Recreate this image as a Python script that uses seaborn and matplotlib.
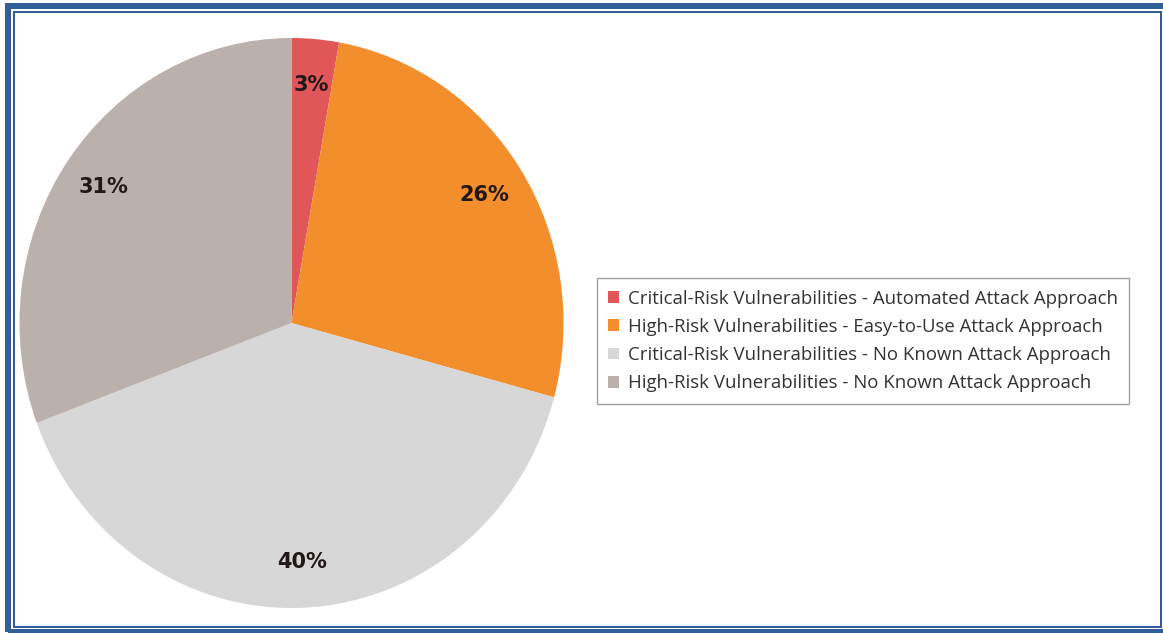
import matplotlib
matplotlib.use("Agg")
import matplotlib.pyplot as plt
from matplotlib.patches import Rectangle
import seaborn as sns

categories = [
    "Critical-Risk Vulnerabilities - Automated Attack Approach",
    "High-Risk Vulnerabilities - Easy-to-Use Attack Approach",
    "Critical-Risk Vulnerabilities - No Known Attack Approach",
    "High-Risk Vulnerabilities - No Known Attack Approach",
]
shares = [2.8, 26.4, 40.1, 30.7]
colors = ["#E15759", "#F28E2B", "#D7D7D7", "#BAB0AC"]

sns.set_theme(style="white")
plt.rcParams["font.family"] = ["Open Sans", "DejaVu Sans"]

W, H = 1163, 633
fig = plt.figure(figsize=(W / 100, H / 100), dpi=100)
fig.patch.set_facecolor("white")

# pie is slightly stretched vertically in the reference
cx, cy, RX, RY = 291.5, 323, 272, 285
ax = fig.add_axes([(cx - RX) / W, (H - cy - RY) / H, 2 * RX / W, 2 * RY / H])
wedges, texts, autotexts = ax.pie(
    shares,
    colors=colors,
    startangle=90,
    counterclock=False,
    radius=1,
    autopct="%.0f%%",
    pctdistance=0.84,
    wedgeprops=dict(linewidth=0),
    textprops=dict(fontsize=15, fontweight="bold", color="#221818", family=["DejaVu Sans"]),
)
ax.set_xlim(-1, 1)
ax.set_ylim(-1, 1)
ax.set_aspect("auto")
ax.axis("off")

leg = fig.legend(
    wedges,
    categories,
    loc="center left",
    bbox_to_anchor=(597 / W, (H - 341) / H),
    frameon=True,
    fancybox=False,
    fontsize=13.4,
    handlelength=0.6,
    handleheight=0.6,
    handletextpad=0.45,
    labelspacing=0.55,
    borderpad=0.6,
    borderaxespad=0,
    labelcolor="#333333",
)
leg.get_frame().set_edgecolor("#8a8a8a")
leg.get_frame().set_linewidth(1.0)

# double blue frame
blue = "#2F5E99"
px = 72 / 100  # points per pixel
fig.patches.append(Rectangle((8 / W, (H - 632) / H), (1175 - 8) / W, (632 - 5.5) / H,
                             transform=fig.transFigure, fill=False, edgecolor=blue,
                             linewidth=6 * px, zorder=10))
fig.patches.append(Rectangle((14 / W, (H - 627) / H), (1161 - 14) / W, (627 - 12) / H,
                             transform=fig.transFigure, fill=False, edgecolor=blue,
                             linewidth=2 * px, zorder=10))

fig.savefig("out.png", dpi=100, facecolor="white")
